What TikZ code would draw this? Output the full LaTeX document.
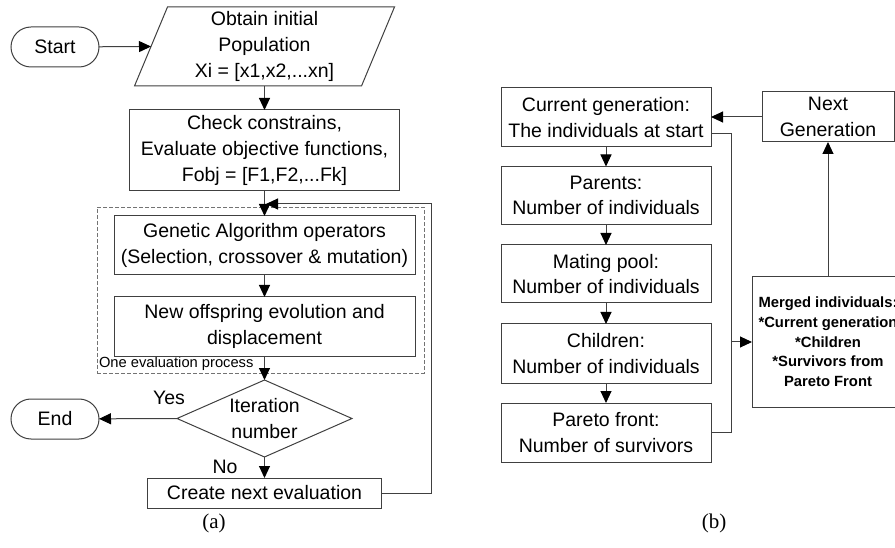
\documentclass[tikz,border=0pt]{standalone}
\usepackage{fontspec}
\setmainfont{Liberation Sans}
\newfontfamily\serifcap{Liberation Serif}
\usetikzlibrary{shapes.geometric,arrows.meta,calc}
\begin{document}
\begin{tikzpicture}[x=1pt,y=-1pt,
  every node/.style={inner sep=0pt, outer sep=0pt, align=center, font=\fontsize{19.5}{25.7}\selectfont},
  box/.style={draw=black!75, line width=1pt, fill=white},
  term/.style={box, rounded corners=20pt, minimum width=88pt, minimum height=40pt},
  arr/.style={draw=black!75, line width=1pt, -{Triangle[length=12pt,width=11pt,fill=black,color=black]}},
  ln/.style={draw=black!75, line width=1pt},
  evalbox/.style={draw=black!55, dash pattern=on 4pt off 2pt, line width=0.9pt},
]
\useasboundingbox (0,0) rectangle (895,548);

% ---------- (a) ----------
\node[evalbox, minimum width=327pt, minimum height=166pt] (eval) at (260.5,290) {};
\node[anchor=west, font=\fontsize{14.7}{17}\selectfont] (evallab) at (99,364) {One evaluation process};

\node[term] (start) at (55,47) {Start};
\node[minimum width=194pt, minimum height=79pt] (pop) at (264.5,46.5) {};
\draw[box] ($(pop.center)+(-97,-39.5)$) -- ($(pop.center)+(130,-39.5)$)
  -- ($(pop.center)+(97,39.5)$) -- ($(pop.center)+(-130,39.5)$) -- cycle;
\node (poptext) at (pop.center) {Obtain initial\\Population\\Xi = [x1,x2,...xn]};
\coordinate (popL) at ($(pop.center)+(-113.5,0)$);

\node[box, minimum width=270pt, minimum height=81pt] (check) at (264.5,150.5)
  {Check constrains,\\ Evaluate objective functions,\\Fobj = [F1,F2,...Fk]};
\node[box, minimum width=301pt, minimum height=59pt] (ga) at (264.5,245.5)
  {Genetic Algorithm operators\\(Selection, crossover \& mutation)};
\node[box, minimum width=301pt, minimum height=59pt] (ne) at (264.5,326.5)
  {New offspring evolution and\\displacement};
\node[box, diamond, minimum width=175pt, minimum height=77pt] (it) at (264.5,418.5) {};
\node (ittext) at (it.center) {Iteration\\number};
\node[term] (end) at (55,419) {End};
\node[box, minimum width=234pt, minimum height=30pt] (create) at (264.5,493) {Create next evaluation};
\node (yes) at (169,398) {Yes};
\node (no) at (225,467) {No};

\coordinate (fbR) at (431,204);
\coordinate (fbT) at (266,204);

\draw[arr] (start) -- (popL);
\draw[arr] (pop.south) -- (check.north);
\draw[arr] (check) -- (ga);
\draw[arr] (ga) -- (ne);
\draw[arr] (ne) -- (it.north);
\draw[arr] (it.west) -- (end);
\draw[arr] (it.south) -- (create);
\draw[arr] (create.east) -| (fbR) -- (fbT);

\node[font=\serifcap\fontsize{21}{24}\selectfont] (capa) at (214,523) {(a)};

% ---------- (b) ----------
\node[box, minimum width=210pt, minimum height=59pt] (cur) at (606,117.5)
  {Current generation:\\The individuals at start};
\node[box, minimum width=210pt, minimum height=58pt] (par) at (606,195.5)
  {Parents:\\Number of individuals};
\node[box, minimum width=210pt, minimum height=58pt] (mate) at (606,274)
  {Mating pool:\\Number of individuals};
\node[box, minimum width=210pt, minimum height=59pt] (child) at (606,353.5)
  {Children:\\Number of individuals};
\node[box, minimum width=210pt, minimum height=59pt] (pareto) at (606,432.5)
  {Pareto front:\\Number of survivors};
\node[box, minimum width=132pt, minimum height=50pt] (next) at (828,117)
  {Next\\Generation};
\node[box, minimum width=152pt, minimum height=130pt, font=\bfseries\fontsize{14.8}{19.7}\selectfont] (mg) at (828,342)
  {Merged individuals:\\*Current generation\\*Children\\*Survivors from\\Pareto Front};

\coordinate (busT) at (731,134);
\coordinate (busB) at (731,432.5);
\coordinate (busM) at (731,342);

\draw[arr] (cur) -- (par);
\draw[arr] (par) -- (mate);
\draw[arr] (mate) -- (child);
\draw[arr] (child) -- (pareto);
\draw[ln] (cur.east |- busT) -- (busT) -- (busB) -- (pareto.east |- busB);
\draw[arr] (busM) -- (mg.west);
\draw[arr] (mg.north) -- (next.south);
\draw[arr] (next.west) -- (cur.east |- next.west);

\node[font=\serifcap\fontsize{21}{24}\selectfont] (capb) at (714,523) {(b)};
\end{tikzpicture}
\end{document}
